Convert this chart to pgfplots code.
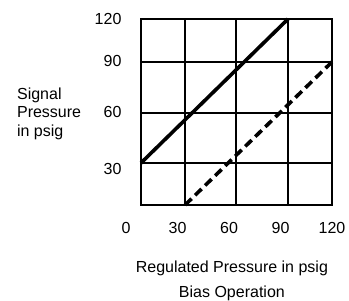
\documentclass[border=0pt]{standalone}
\usepackage{pgfplots}
\pgfplotsset{compat=1.18}
\usepackage{fontspec}
\setmainfont{Liberation Sans}
\begin{document}
\begin{tikzpicture}[x=1pt,y=1pt]
\begin{axis}[
  scale only axis,
  width=191pt, height=186pt,
  xmin=8.7, xmax=120, ymin=0, ymax=120,
  axis line style={line width=2pt},
  xtick={30,60,90,120}, xticklabels={30,60,90,120},
  ytick={23.2,60,92.9,120}, yticklabels={30,60,90,{120\hspace{-4pt}}},
  major tick length=0pt,
  xticklabel style={yshift=-14pt},
  yticklabel style={xshift=-16pt},
  tick label style={font=\fontsize{16}{18}\selectfont},
  /pgf/number format/assume math mode=true,
  extra x ticks={34.4,64.1,94.4},
  extra x tick labels={},
  extra y ticks={27.1,59.4,92.3},
  extra y tick labels={},
  extra tick style={grid=major, major grid style={black, line width=1.5pt}},
  clip=false,
]
\addplot[black, line width=3.6pt] coordinates {(8.7,27.1) (94.4,120)};
\addplot[black, line width=3.6pt, dash pattern=on 9pt off 5pt] coordinates {(34.4,0) (120,92.3)};
\node[font=\fontsize{16}{18}\selectfont] at (rel axis cs:-0.0785,-0.122) {0};
\node[font=\fontsize{16}{18}\selectfont, anchor=base] at (rel axis cs:0.476,-0.3602) {Regulated Pressure in psig};
\node[font=\fontsize{16}{18}\selectfont, anchor=base] at (rel axis cs:0.476,-0.4946) {Bias Operation};
\node[font=\fontsize{16}{18}\selectfont, anchor=base west] at (rel axis cs:-0.667,0.5645) {Signal};
\node[font=\fontsize{16}{18}\selectfont, anchor=base west] at (rel axis cs:-0.667,0.4677) {Pressure};
\node[font=\fontsize{16}{18}\selectfont, anchor=base west] at (rel axis cs:-0.667,0.3656) {in psig};
\coordinate (bl) at (rel axis cs:-0.738,-0.516);
\coordinate (tr) at (rel axis cs:1.089,1.102);
\end{axis}
\pgfresetboundingbox
\path[use as bounding box] (bl) rectangle (tr);
\end{tikzpicture}
\end{document}
